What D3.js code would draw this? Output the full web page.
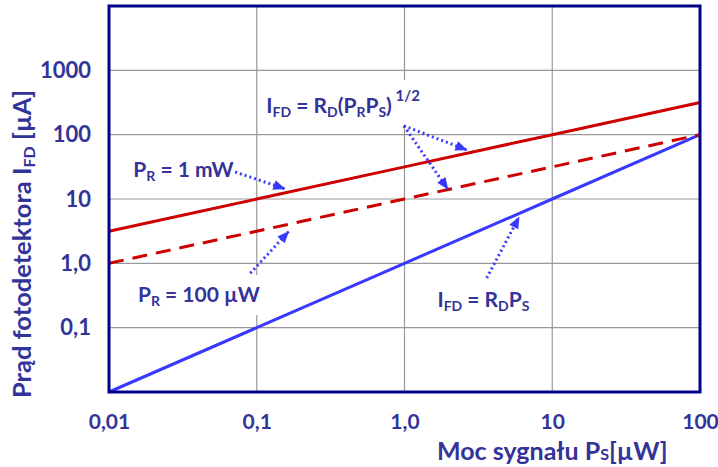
<!DOCTYPE html>
<html>
  <head>
    <meta charset="utf-8">
    <title>Prąd fotodetektora</title>
    <style>
body {
  margin: 0;
  background: #fff;
}
text {
  font-family: Lato, "Open Sans", sans-serif;
  font-weight: bold;
  fill: #333399;
}
    </style>
  </head>
  <body>
    <div id="chart"></div>
    <script src="https://cdn.jsdelivr.net/npm/d3@7"></script>
    <script>

    // moc sygnału P_S [µW]
    var signalPower = [0.01, 0.1, 1, 10, 100];
    // I_FD = R_D (P_R P_S)^1/2, P_R = 1 mW
    var current1mW = [3.16, 10, 31.6, 100, 316];
    // I_FD = R_D (P_R P_S)^1/2, P_R = 100 µW
    var current100uW = [1, 3.16, 10, 31.6, 100];
    // I_FD = R_D P_S
    var currentDirect = [0.01, 0.1, 1, 10, 100];

    var xTicks = [0.01, 0.1, 1, 10, 100],
        xTickLabels = ['0,01', '0,1', '1,0', '10', '100'];
    var yTicks = [0.1, 1, 10, 100, 1000],
        yTickLabels = ['0,1', '1,0', '10', '100', '1000'];

    // annotation arrows, in data units: [x0, y0, x1, y1]
    var arrows = [
      [0.0714, 26.3, 0.154, 14.5],
      [0.99, 137, 2.63, 58],
      [0.99, 137, 1.96, 14.3],
      [0.0904, 0.70, 0.164, 3.1],
      [3.6, 0.59, 5.95, 5.2]
    ];

    var width = 718, height = 467,
        margin = {top: 6, right: 18, bottom: 75, left: 109},
        w = width - margin.left - margin.right,
        h = height - margin.top - margin.bottom;

    var navy = '#00008b', red = '#cc0000', blue = '#3838ff';

    var x = d3.scaleLog().domain([0.01, 100]).range([0, w]);
    var y = d3.scaleLog().domain([0.01, 10000]).range([h, 0]);

    var svg = d3.select('#chart').append('svg')
        .attr('width', width)
        .attr('height', height);

    var defs = svg.append('defs');
    defs.append('marker')
        .attr('id', 'head')
        .attr('viewBox', '0 0 12 10')
        .attr('refX', 11)
        .attr('refY', 5)
        .attr('markerWidth', 13)
        .attr('markerHeight', 10)
        .attr('markerUnits', 'userSpaceOnUse')
        .attr('orient', 'auto')
      .append('path')
        .attr('d', 'M0,0L12,5L0,10Z')
        .style('fill', blue);

    var g = svg.append('g')
        .attr('transform', 'translate(' + margin.left + ',' + margin.top + ')');

    // grid
    g.selectAll('.vgrid')
        .data(xTicks.slice(1, -1))
        .enter().append('line')
        .attr('x1', function(d) { return x(d); })
        .attr('x2', function(d) { return x(d); })
        .attr('y1', 0)
        .attr('y2', h)
        .style('stroke', '#999')
        .style('stroke-width', 1.2);
    g.selectAll('.hgrid')
        .data(yTicks)
        .enter().append('line')
        .attr('x1', 0)
        .attr('x2', w)
        .attr('y1', function(d) { return y(d); })
        .attr('y2', function(d) { return y(d); })
        .style('stroke', '#999')
        .style('stroke-width', 1.2);

    // axes (labels only)
    var xAxis = d3.axisBottom(x)
        .tickValues(xTicks)
        .tickSize(0)
        .tickPadding(22)
        .tickFormat(function(d, i) { return xTickLabels[i]; });
    var yAxis = d3.axisLeft(y)
        .tickValues(yTicks)
        .tickSize(0)
        .tickPadding(18)
        .tickFormat(function(d, i) { return yTickLabels[i]; });

    var gx = g.append('g').attr('transform', 'translate(0,' + h + ')').call(xAxis);
    var gy = g.append('g').call(yAxis);
    [gx, gy].forEach(function(a, k) {
      a.select('.domain').remove();
      a.selectAll('text')
          .style('font-family', 'Lato, sans-serif')
          .style('font-size', k == 0 ? '21px' : '22px')
          .style('font-weight', 'bold')
          .style('fill', '#333399');
    });

    // labels with white boxes
    var labels = g.append('g');
    function label(parts, px, py) {
      var t = labels.append('text')
          .attr('x', x(px))
          .attr('y', y(py))
          .style('font-size', '21px');
      parts.forEach(function(p) {
        var s = t.append('tspan').text(p[0]);
        if (p[1] == 'sub') s.attr('dy', 4).style('font-size', '14px');
        else if (p[1] == 'sup') s.attr('dy', -12).style('font-size', '15px');
        else if (p[1] == 'back') s.attr('dy', -4);
      });
      var b = t.node().getBBox();
      labels.insert('rect', function() { return t.node(); })
          .attr('x', b.x - 8)
          .attr('y', b.y - 6)
          .attr('width', b.width + 16)
          .attr('height', b.height + 12)
          .style('fill', '#fff');
      return t;
    }

    label([['P'], ['R', 'sub'], [' = 1 mW', 'back']], 0.0146, 22);
    label([['I'], ['FD', 'sub'], [' = R', 'back'], ['D', 'sub'], ['(P', 'back'], ['R', 'sub'],
           ['P', 'back'], ['S', 'sub'], [')', 'back'], [' 1/2', 'sup']], 0.116, 217);
    label([['P'], ['R', 'sub'], [' = 100 µW', 'back']], 0.0157, 0.25);
    label([['I'], ['FD', 'sub'], [' = R', 'back'], ['D', 'sub'], ['P', 'back'], ['S', 'sub']], 1.67, 0.21);

    // series
    var line = d3.line()
        .x(function(d, i) { return x(signalPower[i]); })
        .y(function(d) { return y(d); });

    g.append('path')
        .datum(currentDirect)
        .attr('d', line)
        .style('fill', 'none')
        .style('stroke', blue)
        .style('stroke-width', 3);
    g.append('path')
        .datum(current100uW)
        .attr('d', line)
        .style('fill', 'none')
        .style('stroke', red)
        .style('stroke-width', 3)
        .style('stroke-dasharray', '15,9');
    g.append('path')
        .datum(current1mW)
        .attr('d', line)
        .style('fill', 'none')
        .style('stroke', red)
        .style('stroke-width', 3);

    // arrows
    g.selectAll('.arrow')
        .data(arrows)
        .enter().append('line')
        .attr('x1', function(d) { return x(d[0]); })
        .attr('y1', function(d) { return y(d[1]); })
        .attr('x2', function(d) { return x(d[2]); })
        .attr('y2', function(d) { return y(d[3]); })
        .attr('marker-end', 'url(#head)')
        .style('stroke', blue)
        .style('stroke-width', 3)
        .style('stroke-dasharray', '2,3');

    // frame
    g.append('rect')
        .attr('width', w)
        .attr('height', h)
        .style('fill', 'none')
        .style('stroke', navy)
        .style('stroke-width', 3);

    // axis titles
    var xt = svg.append('text')
        .attr('x', margin.left + x(10))
        .attr('y', 460)
        .attr('text-anchor', 'middle')
        .style('font-size', '25px');
    xt.append('tspan').text('Moc sygnału P');
    xt.append('tspan').text('S').style('font-size', '16px');
    xt.append('tspan').text('[µW]');

    var yt = svg.append('text')
        .attr('transform', 'translate(31,244) rotate(-90)')
        .attr('text-anchor', 'middle')
        .style('font-size', '25.5px');
    yt.append('tspan').text('Prąd fotodetektora I');
    yt.append('tspan').text('FD').attr('dy', 4).style('font-size', '16px');
    yt.append('tspan').text(' [µA]').attr('dy', -4);

    </script>
  </body>
</html>
